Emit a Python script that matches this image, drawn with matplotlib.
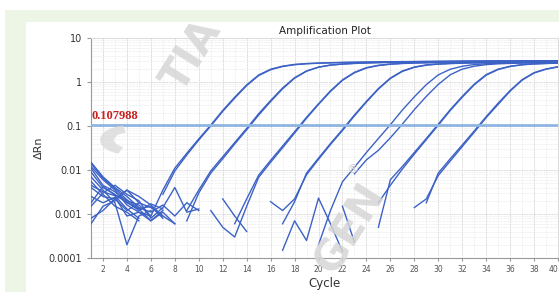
import numpy as np
import matplotlib.pyplot as plt
from matplotlib.patches import Rectangle, Wedge

n = np.nan
cycles = np.arange(1, 41)
threshold = 0.107988

# delta Rn per cycle (nan = below the log scale)
g1a = [0.012, 0.006, 0.0035, 0.0016, 0.0011, 0.0009, 0.0035, 0.011, 0.024, 0.051, 0.105, 0.226, 0.45, 0.86, 1.44, 1.95, 2.29, 2.51, 2.63, 2.70,
       2.75, 2.79, 2.82, 2.85, 2.87, 2.89, 2.91, 2.92, 2.94, 2.95, 2.96, 2.97, 2.98, 2.99, 3.00, 3.00, 3.01, 3.02, 3.02, 3.03]
g1b = [0.004, 0.0025, 0.0022, 0.0012, 0.0018, n, 0.0028, 0.0095, 0.022, 0.048, 0.100, 0.215, 0.43, 0.83, 1.40, 1.90, 2.25, 2.47, 2.59, 2.67,
       2.72, 2.76, 2.79, 2.82, 2.84, 2.86, 2.88, 2.90, 2.91, 2.93, 2.94, 2.95, 2.96, 2.97, 2.98, 2.99, 2.99, 3.00, 3.01, 3.01]
g2a = [0.009, 0.004, 0.0028, 0.0018, 0.0013, 0.0015, 0.0008, n, 0.0007, 0.003, 0.0085, 0.018, 0.039, 0.082, 0.177, 0.36, 0.70, 1.22, 1.76, 2.17,
       2.43, 2.56, 2.66, 2.72, 2.77, 2.81, 2.84, 2.86, 2.88, 2.90, 2.92, 2.93, 2.94, 2.95, 2.96, 2.97, 2.98, 2.98, 2.99, 3.00]
g2b = [0.0025, 0.0018, 0.0024, 0.0009, 0.0011, 0.0007, 0.0012, n, 0.0012, 0.0035, 0.0095, 0.020, 0.042, 0.088, 0.19, 0.38, 0.73, 1.25, 1.78, 2.18,
       2.42, 2.55, 2.64, 2.70, 2.75, 2.79, 2.82, 2.85, 2.87, 2.89, 2.90, 2.92, 2.93, 2.94, 2.95, 2.96, 2.97, 2.97, 2.98, 2.99]
g3a = [0.015, 0.007, 0.004, 0.0025, 0.0014, 0.0011, 0.0016, 0.0009, 0.0018, 0.0012, n, n, 0.0006, 0.0022, 0.0076, 0.0166, 0.035, 0.074, 0.158, 0.32,
       0.63, 1.12, 1.66, 2.12, 2.40, 2.57, 2.66, 2.72, 2.76, 2.79, 2.82, 2.84, 2.86, 2.88, 2.89, 2.90, 2.91, 2.92, 2.93, 2.94]
g3b = [0.0006, 0.0015, 0.002, 0.0035, 0.0025, 0.0016, 0.0009, 0.0006, n, n, 0.0012, 0.0005, 0.0003, 0.0015, 0.0068, 0.015, 0.032, 0.069, 0.150, 0.31,
       0.61, 1.09, 1.62, 2.08, 2.36, 2.53, 2.63, 2.69, 2.73, 2.77, 2.80, 2.82, 2.84, 2.86, 2.87, 2.88, 2.89, 2.90, 2.91, 2.92]
g4a = [0.007, 0.0035, 0.0018, 0.0002, 0.0009, 0.0012, n, n, n, n, n, 0.0022, 0.0009, 0.0004, n, n, 0.0006, 0.0019, 0.0085, 0.0186,
       0.040, 0.083, 0.178, 0.363, 0.71, 1.23, 1.78, 2.19, 2.45, 2.57, 2.65, 2.70, 2.74, 2.77, 2.79, 2.81, 2.83, 2.84, 2.85, 2.86]
g4b = [0.0015, 0.003, 0.0045, 0.0028, 0.002, 0.0008, 0.0014, 0.004, 0.0011, 0.0013, n, n, n, n, n, 0.0019, 0.0012, 0.0022, 0.0078, 0.0175,
       0.038, 0.079, 0.17, 0.35, 0.69, 1.20, 1.74, 2.15, 2.41, 2.54, 2.62, 2.67, 2.71, 2.74, 2.76, 2.78, 2.80, 2.81, 2.82, 2.83]
g5a = [0.0055, 0.0028, 0.0015, 0.0011, 0.0007, n, n, n, n, n, n, n, n, n, n, n, n, n, n, 0.0002,
       0.0012, 0.0054, 0.0115, 0.025, 0.052, 0.107, 0.23, 0.46, 0.87, 1.45, 1.95, 2.28, 2.49, 2.60, 2.66, 2.70, 2.73, 2.75, 2.77, 2.78]
g5b = [0.011, 0.0045, 0.0032, 0.0020, 0.0016, 0.0009, n, n, n, n, n, n, n, n, n, n, n, n, n, n,
       n, n, 0.0082, 0.017, 0.028, 0.054, 0.11, 0.235, 0.47, 0.88, 1.46, 1.96, 2.28, 2.48, 2.59, 2.65, 2.69, 2.72, 2.74, 2.76]
g6a = [0.0008, 0.0012, 0.0022, 0.0035, 0.0018, 0.0014, 0.0009, n, n, n, n, n, n, n, n, n, n, n, n, n,
       n, n, n, n, 0.0005, 0.006, 0.012, 0.025, 0.052, 0.11, 0.235, 0.47, 0.89, 1.47, 1.96, 2.28, 2.48, 2.59, 2.65, 2.70]
g6b = [0.0045, 0.0032, 0.0026, 0.0013, 0.0008, n, n, n, n, n, n, n, n, n, n, n, 0.00015, 0.0007, 0.00025, 0.0023,
       0.0006, 0.00014, n, n, 0.0018, 0.0045, 0.0105, 0.023, 0.049, 0.104, 0.225, 0.45, 0.86, 1.43, 1.92, 2.25, 2.46, 2.57, 2.63, 2.68]
g7a = [0.014, 0.0065, 0.0038, 0.0021, 0.0013, 0.0007, 0.0011, 0.0006, n, n, n, n, n, n, n, n, n, n, n, n,
       n, 0.0015, 0.00023, n, n, n, n, 0.0014, 0.0022, 0.0075, 0.016, 0.034, 0.072, 0.155, 0.31, 0.62, 1.10, 1.60, 1.95, 2.20]
g7b = [0.0018, 0.0042, 0.0027, 0.0019, 0.0012, 0.0017, 0.0013, n, n, n, n, n, n, n, n, n, n, n, n, n,
       n, n, n, n, n, n, n, n, 0.0018, 0.0085, 0.018, 0.037, 0.077, 0.163, 0.33, 0.64, 1.13, 1.63, 1.98, 2.22]
wells = [g1a, g1b, g2a, g2b, g3a, g3b, g4a, g4b, g5a, g5b, g6a, g6b, g7a, g7b]

xticks = list(range(2, 41, 2))
yticks = [0.0001, 0.001, 0.01, 0.1, 1, 10]
ylabels = ['0.0001', '0.001', '0.01', '0.1', '1', '10']

fig = plt.figure(figsize=(5.59, 2.92), dpi=100)
fig.patch.set_facecolor('white')
# green frame and white panel behind the plot
fig.patches.append(Rectangle((5 / 559, 0), 554 / 559, 282 / 292, transform=fig.transFigure,
                             facecolor='#edf5e5', edgecolor='none', zorder=-3))
fig.patches.append(Rectangle((26 / 559, 0), 533 / 559, 270 / 292, transform=fig.transFigure,
                             facecolor='white', edgecolor='none', zorder=-2))

ax = fig.add_axes([91 / 559, 34 / 292, 467 / 559, 220 / 292])
ax.set_facecolor('none')
for w in wells:
    ax.plot(cycles, w, color='#3c62c6', linewidth=1.0, zorder=3)
ax.axhline(threshold, color='#8fb5e2', linewidth=2, zorder=4)
ax.text(1.05, threshold * 1.12, '0.107988', color='#c8201e', fontsize=9, fontweight='bold',
        family='Liberation Serif', ha='left', va='bottom', zorder=5)

ax.set_yscale('log')
ax.set_xlim(1, 40)
ax.set_ylim(0.0001, 10)
ax.set_xticks(xticks)
ax.set_xticks(range(1, 41), minor=True)
ax.set_yticks(yticks)
ax.set_yticklabels(ylabels)
ax.tick_params(axis='x', which='major', labelsize=5.5, labelcolor='#555555', length=2, color='#999999', pad=3)
ax.tick_params(axis='x', which='minor', length=0)
ax.tick_params(axis='y', which='major', labelsize=7, labelcolor='#333333', length=3, color='#999999')
ax.tick_params(axis='y', which='minor', length=0)
ax.get_xticklabels()[-1].set_ha('right')  # "40" sits on the right edge
ax.grid(True, which='major', color='#d4d4d4', linestyle=(0, (2, 1)), linewidth=0.6)
ax.grid(True, which='minor', color='#e4e4e4', linestyle=(0, (1, 1)), linewidth=0.5)
ax.set_axisbelow(True)
for s in ['left', 'bottom']:
    ax.spines[s].set_color('#999999')
for s in ['top', 'right']:
    ax.spines[s].set_color('#dddddd')

ax.set_title('Amplification Plot', fontsize=7.5, color='#222222', pad=3)
ax.set_xlabel('Cycle', fontsize=8.5, color='#333333', labelpad=2)
ax.set_ylabel('ΔRn', fontsize=8, color='#333333')
ax.yaxis.set_label_coords(-0.1, 0.5)

# light watermark
fig.text(192 / 559, 1 - 55 / 292, 'TIA', fontsize=30, fontweight='bold', color='#d6d6d6', alpha=0.85,
         rotation=58, ha='center', va='center', zorder=10)
fig.text(350 / 559, 1 - 228 / 292, 'GEN', fontsize=30, fontweight='bold', color='#d6d6d6', alpha=0.85,
         rotation=58, ha='center', va='center', zorder=10)
fig.text(352 / 559, 1 - 170 / 292, '®', fontsize=9, color='#d0d0d0', ha='center', va='center', zorder=10)
fig.patches.append(Wedge((128 / 559, 1 - 140 / 292), 0.05, 100, 250, width=0.025, transform=fig.transFigure,
                         facecolor='#dadada', edgecolor='none', alpha=0.8, zorder=10))

fig.savefig('out.png', dpi=100)
